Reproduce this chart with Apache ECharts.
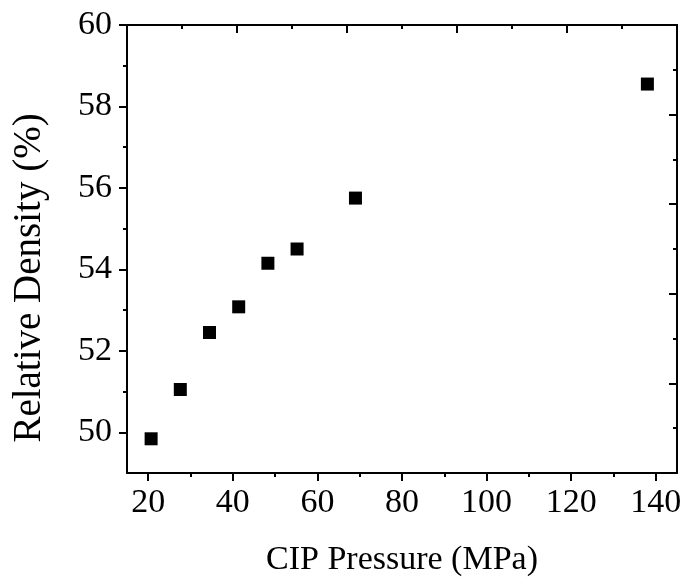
<!DOCTYPE html>
<html>
<head>
<meta charset="utf-8">
<script src="https://cdn.jsdelivr.net/npm/echarts@6/dist/echarts.min.js"></script>
<style>html,body{margin:0;padding:0;background:#fff}#c{width:683px;height:577px}</style>
</head>
<body>
<div id="c"></div>
<script>
var pressure = [20.7, 27.6, 34.5, 41.4, 48.3, 55.2, 69, 138];
var density = [49.84, 51.05, 52.45, 53.08, 54.15, 54.5, 55.75, 58.55];
var xMajor = [20, 40, 60, 80, 100, 120, 140];
var xMinor = [30, 50, 70, 90, 110, 130];
var yMajor = [50, 52, 54, 56, 58, 60];
var yMinor = [51, 53, 55, 57, 59];
var xTitle = 'CIP Pressure (MPa)';
var yTitle = 'Relative Density (%)';

var FONT = 'Liberation Serif';
var line = {show: true, onZero: false, lineStyle: {color: '#000', width: 2}};
var noLine = {show: false, onZero: false};
var chart = echarts.init(document.getElementById('c'));
chart.setOption({
  animation: false,
  backgroundColor: '#fff',
  grid: {left: 127, right: 6, top: 25, bottom: 104, containLabel: false, outerBoundsMode: 'none'},
  graphic: [{
    type: 'text', x: 30, y: 278, rotation: Math.PI / 2,
    style: {text: yTitle, font: '39px "Liberation Serif"', fill: '#000',
            align: 'center', verticalAlign: 'middle'}
  }],
  xAxis: [
    {type: 'value', position: 'bottom', min: 15, max: 145,
     axisLine: line,
     axisTick: {show: true, customValues: xMajor, length: 8, lineStyle: {color: '#000', width: 2}},
     axisLabel: {customValues: xMajor, fontSize: 34, fontFamily: FONT, color: '#000', margin: 13},
     splitLine: {show: false},
     name: xTitle, nameLocation: 'middle', nameGap: 70,
     nameTextStyle: {fontSize: 34, fontFamily: FONT, color: '#000'}},
    {type: 'value', position: 'bottom', min: 15, max: 145,
     axisLine: noLine,
     axisTick: {show: true, customValues: xMinor, length: 4, lineStyle: {color: '#000', width: 2}},
     axisLabel: {show: false}, splitLine: {show: false}},
    {type: 'value', position: 'top', min: 0, max: 10, interval: 2,
     axisLine: line,
     axisTick: {show: true, inside: true, length: 8, lineStyle: {color: '#000', width: 2}},
     minorTick: {show: true, splitNumber: 2, length: 4, lineStyle: {color: '#000', width: 2}},
     axisLabel: {show: false}, splitLine: {show: false}}
  ],
  yAxis: [
    {type: 'value', position: 'left', min: 49, max: 60,
     axisLine: line,
     axisTick: {show: true, customValues: yMajor, length: 8, lineStyle: {color: '#000', width: 2}},
     axisLabel: {customValues: yMajor, fontSize: 34, fontFamily: FONT, color: '#000', margin: 15},
     splitLine: {show: false}},
    {type: 'value', position: 'left', min: 49, max: 60,
     axisLine: noLine,
     axisTick: {show: true, customValues: yMinor, length: 4, lineStyle: {color: '#000', width: 2}},
     axisLabel: {show: false}, splitLine: {show: false}},
    {type: 'value', position: 'right', min: 0, max: 10, interval: 2,
     axisLine: line,
     axisTick: {show: true, inside: true, length: 8, lineStyle: {color: '#000', width: 2}},
     minorTick: {show: true, splitNumber: 2, length: 4, lineStyle: {color: '#000', width: 2}},
     axisLabel: {show: false}, splitLine: {show: false}}
  ],
  series: [{
    type: 'scatter', xAxisIndex: 0, yAxisIndex: 0,
    symbol: 'rect', symbolSize: 13,
    itemStyle: {color: '#000', opacity: 1},
    data: pressure.map(function (p, i) { return [p, density[i]]; })
  }]
});
</script>
</body>
</html>
